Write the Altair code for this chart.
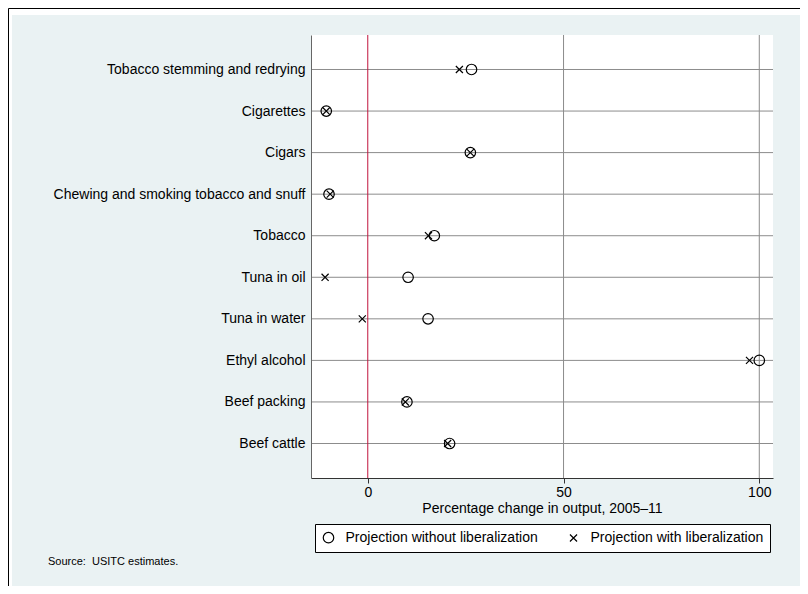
import altair as alt
import pandas as pd

FONT = "Liberation Sans"

categories = [
    "Tobacco stemming and redrying",
    "Cigarettes",
    "Cigars",
    "Chewing and smoking tobacco and snuff",
    "Tobacco",
    "Tuna in oil",
    "Tuna in water",
    "Ethyl alcohol",
    "Beef packing",
    "Beef cattle",
]
without_lib = [26.5, -10.6, 26.2, -9.9, 17.0, 10.3, 15.4, 100.0, 10.0, 20.9]
with_lib = [23.4, -10.6, 26.2, -9.6, 15.5, -10.9, -1.4, 97.5, 9.6, 20.4]
series_names = ["Projection without liberalization", "Projection with liberalization"]
x_ticks = [0, 50, 100]
grid_x = [50, 100]
zero_line = [0]
x_title = "Percentage change in output, 2005\u201311"
source_note = "Source:\u00a0 USITC estimates."

df = pd.DataFrame({
    "category": categories * 2,
    "series": [series_names[0]] * len(categories) + [series_names[1]] * len(categories),
    "value": without_lib + with_lib,
})

W, H = 462, 443
xscale = alt.Scale(domain=[-14.5, 103.5], nice=False, zero=False)
yscale = alt.Scale(type="point", domain=categories, padding=0.83)

x_axis = alt.Axis(values=x_ticks, title=x_title, grid=False, tickSize=5, tickColor="#333333",
                  domainColor="#333333", labelFontSize=14, titleFontSize=14, titleFontWeight="normal",
                  labelColor="#000000", titleColor="#000000", labelPadding=2, titlePadding=2,
                  labelFont=FONT, titleFont=FONT, zindex=1)
y_axis = alt.Axis(title=None, grid=False, ticks=False, labelPadding=6, labelFontSize=14,
                  labelColor="#000000", domainColor="#666666", labelFont=FONT, labelLimit=400, zindex=1)

one = alt.Data(values=[{}])

light_bg = alt.Chart(one).mark_rect(color="#EAF2F3").encode(
    x=alt.value(-299), x2=alt.value(494), y=alt.value(-20), y2=alt.value(700))
frame = alt.Chart(one).mark_rect(fillOpacity=0, stroke="#000000", strokeWidth=1).encode(
    x=alt.value(-302.5), x2=alt.value(700), y=alt.value(-26.5), y2=alt.value(800))
plot_bg = alt.Chart(one).mark_rect(color="#FFFFFF").encode(
    x=alt.value(0), x2=alt.value(W), y=alt.value(0), y2=alt.value(H))

hgrid = alt.Chart(pd.DataFrame({"category": categories})).mark_rule(
    color="#8C8C8C", strokeWidth=1).encode(
    y=alt.Y("category:N", scale=yscale, axis=y_axis, sort=categories))
vgrid = alt.Chart(pd.DataFrame({"value": grid_x})).mark_rule(
    color="#8C8C8C", strokeWidth=1).encode(
    x=alt.X("value:Q", scale=xscale, axis=x_axis))
zero = alt.Chart(pd.DataFrame({"value": zero_line})).mark_rule(
    color="#C0143C", strokeWidth=1).encode(
    x=alt.X("value:Q", scale=xscale, axis=x_axis))

legend = alt.Legend(title=None, orient="none", legendX=4, legendY=489, direction="horizontal",
                    padding=6.5, columnPadding=28, labelFontSize=14, labelFont=FONT,
                    labelColor="#000000", labelOffset=10, strokeColor="#000000",
                    fillColor="#FFFFFF", cornerRadius=0, symbolStrokeColor="#000000",
                    symbolFillColor="transparent", symbolStrokeWidth=1.2, labelLimit=400)

xpath = "M-1,-1L1,1M-1,1L1,-1"
points = alt.Chart(df).mark_point(filled=False, color="#000000", strokeWidth=1.2, opacity=1).encode(
    x=alt.X("value:Q", scale=xscale, axis=x_axis),
    y=alt.Y("category:N", scale=yscale, axis=y_axis, sort=categories),
    shape=alt.Shape("series:N", scale=alt.Scale(domain=series_names, range=["circle", xpath]),
                    legend=legend),
    size=alt.Size("series:N", scale=alt.Scale(type="ordinal", domain=series_names, range=[110, 50]),
                  legend=legend),
)

note = alt.Chart(alt.Data(values=[{"t": source_note}])).mark_text(
    align="left", baseline="middle", fontSize=11, font=FONT, color="#000000").encode(
    text="t:N", x=alt.value(-263), y=alt.value(527))

chart = alt.layer(light_bg, frame, plot_bg, hgrid, vgrid, zero, points, note).properties(
    width=W, height=H,
    autosize=alt.AutoSizeParams(type="none"),
    padding={"left": 303, "top": 27, "right": 27, "bottom": 108},
).configure(background="#FFFFFF", font=FONT).configure_view(strokeWidth=0)

chart.save("out.html", embed_options={"renderer": "svg", "actions": False})
